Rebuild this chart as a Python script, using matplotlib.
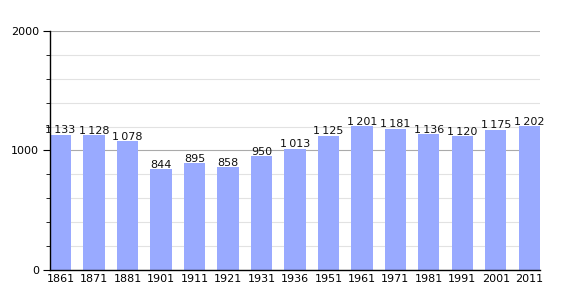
import numpy as np
import matplotlib.pyplot as plt
from matplotlib.ticker import MultipleLocator

years = ["1861", "1871", "1881", "1901", "1911", "1921", "1931", "1936",
         "1951", "1961", "1971", "1981", "1991", "2001", "2011"]
population = [1133, 1128, 1078, 844, 895, 858, 950, 1013,
              1125, 1201, 1181, 1136, 1120, 1175, 1202]

def fmt(v):
    return f"{v:,}".replace(",", "\u2009")

fig = plt.figure(figsize=(5.7, 3.0), dpi=100)
ax = fig.add_axes([0.0877, 0.1, 0.8596, 0.797])

x = np.arange(len(years))
ax.bar(x, population, width=0.63, color="#99aaff", zorder=2)

for xi, v in zip(x, population):
    ax.text(xi, v - 5, fmt(v), ha="center", va="bottom", fontsize=8, color="#111111", zorder=3)

ax.set_xlim(-0.315, len(years) - 1 + 0.315)
ax.set_ylim(0, 2000)
ax.set_xticks(x)
ax.set_xticklabels(years, fontsize=8)
ax.tick_params(axis="x", length=0, pad=3)

ax.yaxis.set_major_locator(MultipleLocator(1000))
ax.yaxis.set_minor_locator(MultipleLocator(200))
ax.tick_params(axis="y", which="major", length=5, labelsize=8, pad=3)
ax.tick_params(axis="y", which="minor", length=3)

ax.grid(axis="y", which="minor", color="#e2e2e2", linewidth=0.8, zorder=0)
ax.grid(axis="y", which="major", color="#aaaaaa", linewidth=0.8, zorder=1)

for s in ["top", "right"]:
    ax.spines[s].set_visible(False)
ax.spines["left"].set_linewidth(1.0)
ax.spines["bottom"].set_linewidth(1.0)

fig.savefig("out.png", dpi=100)
